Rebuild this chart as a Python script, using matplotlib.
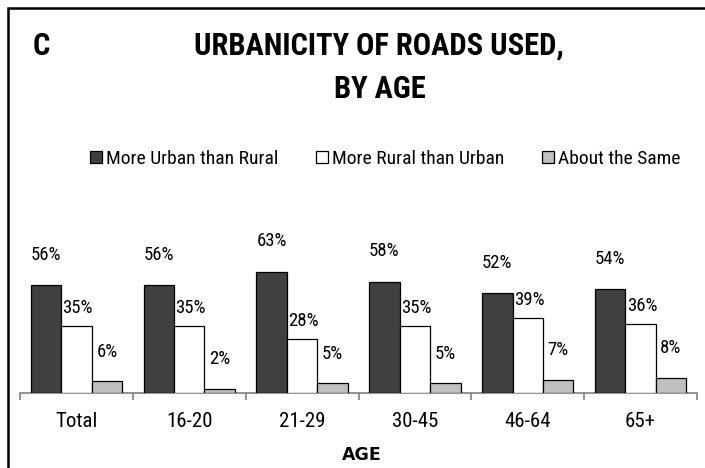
import matplotlib
matplotlib.use("Agg")
import matplotlib.pyplot as plt
from matplotlib.patches import Rectangle
import numpy as np

categories = ["Total", "16-20", "21-29", "30-45", "46-64", "65+"]
urban = [56, 56, 63, 58, 52, 54]
rural = [35, 35, 28, 35, 39, 36]
same = [6, 2, 5, 5, 7, 8]
series_names = ["More Urban than Rural", "More Rural than Urban", "About the Same"]

W, H = 705, 468
fig = plt.figure(figsize=(W / 100, H / 100), dpi=100)
narrow = ["Roboto Condensed", "DejaVu Sans"]

def fx(px):
    return px / W

def fy(py):
    return 1 - py / H

ax = fig.add_axes([fx(20), fy(393), fx(697) - fx(20), (393 - 201) / H])
x = np.arange(len(categories))
bw = 0.27
colors = ["#404040", "#ffffff", "#c0c0c0"]
offsets_pts = [22, 13, 21.5]
bars = []
for k, (vals, off) in enumerate(zip([urban, rural, same], [-bw, 0, bw])):
    b = ax.bar(x + off, vals, bw, color=colors[k], edgecolor="black", linewidth=0.9,
               label=series_names[k], zorder=3)
    bars.append(b)
    for xi, v in zip(x + off, vals):
        ax.annotate(f"{v}%", (xi, v), xytext=(1 if k == 1 else 0, offsets_pts[k]),
                    textcoords="offset points", ha="center", va="center",
                    fontsize=13.5, family=narrow)

ax.set_xlim(-0.5, len(categories) - 0.5)
ax.set_ylim(0, 100)
for s in ["top", "right", "left"]:
    ax.spines[s].set_visible(False)
ax.spines["bottom"].set_color("#808080")
ax.spines["bottom"].set_linewidth(1.2)
ax.set_yticks([])
ax.set_xticks(np.arange(-0.5, len(categories), 1.0))
ax.set_xticklabels([])
ax.set_xticks(x, minor=True)
ax.set_xticklabels(categories, minor=True, fontsize=15, family=narrow)
ax.tick_params(axis="x", which="major", direction="out", length=5, width=1.2, color="#808080")
ax.tick_params(axis="x", which="minor", length=0, pad=13.5)

leg = fig.legend(handles=bars, labels=series_names, loc="center left",
                 bbox_to_anchor=(fx(90), fy(159)), ncol=3, frameon=False,
                 prop={"family": narrow, "size": 14}, handlelength=0.62,
                 handleheight=0.62, handletextpad=0.2, columnspacing=1.93,
                 borderpad=0, borderaxespad=0)

fig.text(fx(379), fy(46), "URBANICITY OF ROADS USED,", ha="center", va="center",
         fontsize=22, fontweight="bold", family=narrow)
fig.text(fx(380), fy(89), "BY AGE", ha="center", va="center",
         fontsize=22, fontweight="bold", family=narrow)
fig.text(fx(33), fy(46), "C", ha="left", va="center",
         fontsize=22, fontweight="bold", family=narrow)
fig.text(fx(362), fy(455), "AGE", ha="center", va="center",
         fontsize=12.5, fontweight="bold", family=["DejaVu Sans"])

fig.patches.append(Rectangle((fx(8), -0.2), 1.2, fy(8) + 0.2, transform=fig.transFigure,
                             fill=False, edgecolor="black", linewidth=1.8))

fig.savefig("out.png", dpi=100)
